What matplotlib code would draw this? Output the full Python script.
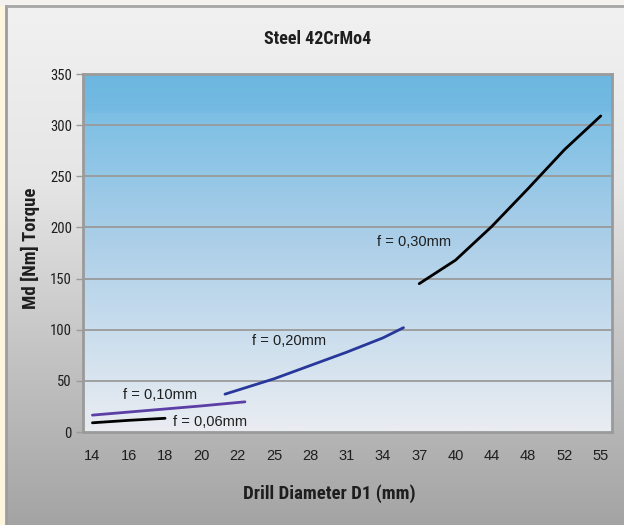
import numpy as np
import matplotlib
matplotlib.use('Agg')
import matplotlib.pyplot as plt
from matplotlib import font_manager
from matplotlib.font_manager import FontProperties
from matplotlib.colors import LinearSegmentedColormap

# data
diameters = [14, 16, 18, 20, 22, 25, 28, 31, 34, 37, 40, 44, 48, 52, 55]

d_006 = [14, 16, 18]
md_006 = [9, 11.4, 13.4]

d_010 = [14, 16, 18, 20, 22.6]
md_010 = [16.5, 19.5, 22.5, 25.5, 29.5]

d_020 = [21.3, 25, 28, 31, 34, 35.7]
md_020 = [37, 52, 65, 78, 92, 102]

d_030 = [37, 40, 44, 48, 52, 55]
md_030 = [145, 168, 201, 238, 276, 309]

labels = ['f = 0,06mm', 'f = 0,10mm', 'f = 0,20mm', 'f = 0,30mm']


def _weight(f):
    return f.weight if isinstance(f.weight, int) else (700 if 'bold' in str(f.weight) else 400)


def narrow_font(bold, size):
    # prefer the narrowest condensed face available
    fonts = font_manager.fontManager.ttflist
    prefs = ['Liberation Sans Narrow', 'Roboto Condensed', 'Open Sans Condensed', 'Noto Sans Condensed']
    for name in prefs:
        for f in fonts:
            if f.name == name and ((_weight(f) >= 600) == bold) and f.style == 'normal':
                return FontProperties(fname=f.fname, size=size)
    for f in fonts:
        cond = ('Narrow' in f.name or 'Condensed' in f.name
                or str(f.stretch) in ('condensed', 'semi-condensed', 'extra-condensed'))
        if cond and ((_weight(f) >= 600) == bold) and f.style == 'normal':
            return FontProperties(fname=f.fname, size=size)
    return FontProperties(family='Liberation Sans', weight='bold' if bold else 'normal', size=size)


def pos(d):
    # category axis: diameters evenly spaced
    return np.interp(d, diameters, np.arange(len(diameters)))


fp_title = narrow_font(True, 13)
fp_label = narrow_font(True, 13.5)
fp_ytick = narrow_font(False, 10.5)

fig = plt.figure(figsize=(6.24, 5.25), dpi=100)

# ---- background panel
bg = fig.add_axes([0, 0, 1, 1], zorder=-10)
bg.set_xlim(0, 624)
bg.set_ylim(525, 0)
bg.axis('off')
panel_cmap = LinearSegmentedColormap.from_list('panel', ['#f2f1f1', '#e6e6e6', '#c4c4c4', '#a4a4a4'])
grad = np.linspace(0, 1, 256).reshape(-1, 1)
bg.imshow(grad, cmap=panel_cmap, extent=[7, 624, 525, 7], aspect='auto')
bg.fill_between([0, 5], 0, 525, color='#fdf5de')
bg.fill_between([0, 624], 0, 5, color='#f4f2ee')
bg.plot([6, 6], [6, 525], color='#9c9ca2', lw=2)
bg.plot([6, 624], [6, 6], color='#a6a6a6', lw=2)

# ---- plot area
ax = fig.add_axes([83 / 624, 1 - 432 / 525, (612 - 83) / 624, (432 - 74) / 525])
xmin, xmax = -0.26, 14.31
ax.set_xlim(xmin, xmax)
ax.set_ylim(0, 350)
area_cmap = LinearSegmentedColormap.from_list(
    'area', [(0, '#6cb7e0'), (0.1, '#74bae2'), (0.11, '#7dbfe4'), (0.45, '#aacee8'), (1, '#eaedf2')])
ax.imshow(grad, cmap=area_cmap, extent=[xmin, xmax, 0, 350], aspect='auto', zorder=0)

for y in range(50, 350, 50):
    ax.axhline(y, color='#9a9a9a', lw=1.3, zorder=1)

lw = 2.0
ax.plot(pos(d_006), md_006, color='black', lw=lw, zorder=3, solid_capstyle='round')
ax.plot(pos(d_010), md_010, color='#5b3ea6', lw=lw, zorder=3, solid_capstyle='round')
ax.plot(pos(d_020), md_020, color='#27389a', lw=lw, zorder=3, solid_capstyle='round')
ax.plot(pos(d_030), md_030, color='black', lw=lw, zorder=3, solid_capstyle='round')

tkw = dict(fontsize=10.5, family='Liberation Sans', color='#1e1e1e', va='center', ha='left', zorder=4)
ax.text(pos(18.45), 10, labels[0], **tkw)
ax.text(pos(15.7), 36, labels[1], **tkw)
ax.text(pos(23.2), 89, labels[2], **tkw)
ax.text(pos(33.5), 186, labels[3], **tkw)

for s in ax.spines.values():
    s.set_color('#9a9a9a')
    s.set_linewidth(2)

ax.set_yticks(range(0, 351, 50))
ax.set_yticklabels([str(v) for v in range(0, 351, 50)], fontproperties=fp_ytick, color='#1e1e1e')
ax.tick_params(axis='y', length=5, width=1, color='#9a9a9a', pad=3)

ax.set_xticks(np.arange(len(diameters)))
ax.set_xticklabels([str(d) for d in diameters], family='Liberation Sans', fontsize=10.5, color='#1e1e1e')
ax.set_xticks(np.arange(xmin + 0.06, xmax, 0.2), minor=True)
ax.tick_params(axis='x', which='major', length=0, pad=12)
ax.tick_params(axis='x', which='minor', length=4, width=1, color='#b4b4b4')

ax.set_xlabel('Drill Diameter D1 (mm)', fontproperties=fp_label, color='#1e1e1e')
ax.xaxis.set_label_coords(0.465, -0.173)
ax.xaxis.label.set_va('center')
ax.set_ylabel('Md [Nm] Torque', fontproperties=fp_label, color='#1e1e1e')
ax.yaxis.set_label_coords(-0.1, 0.514)
ax.yaxis.label.set_va('center')

fig.text(318 / 624, 1 - 39 / 525, 'Steel 42CrMo4', fontproperties=fp_title,
         color='#1e1e1e', ha='center', va='center')

fig.savefig('out.png', dpi=100)
